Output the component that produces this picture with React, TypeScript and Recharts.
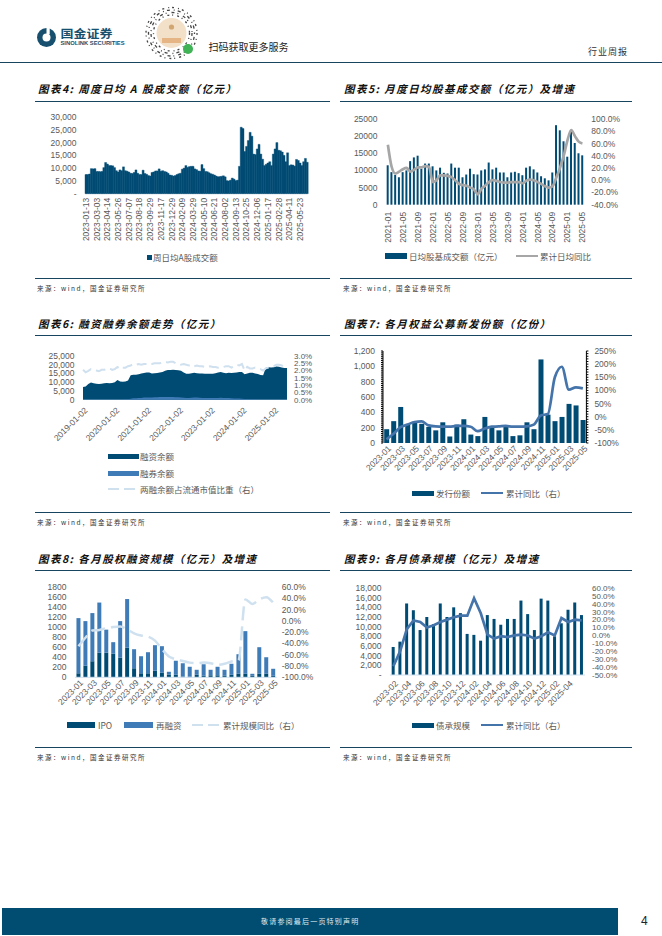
import React from 'react';
import { Area, Bar, ComposedChart, Line, XAxis, YAxis } from 'recharts';

const DARK = '#004b74';
const BLUE = '#3f7bb6';
const LINE_BLUE = '#4474aa';
const PALE = '#cfe0ef';
const GRAY = '#a6a6a6';
const TEXT = '#595959';
const LATIN = '"Liberation Sans", Arial, sans-serif';
const CJK = '"Noto Sans CJK SC", "Noto Sans", sans-serif';

// chart 4
const weekTicks = ['2023-01-13', '2023-03-03', '2023-04-14', '2023-05-26', '2023-07-07', '2023-08-18', '2023-09-29', '2023-11-17', '2023-12-29', '2024-02-09', '2024-03-29', '2024-05-10', '2024-06-21', '2024-08-02', '2024-09-13', '2024-10-25', '2024-12-06', '2025-01-17', '2025-02-28', '2025-04-11', '2025-05-23'];
const weeklyTurnover = [
  7500, 7500, 7700, 9800, 9700, 9800, 8700, 8700, 8600, 8700,
  10200, 12200, 11600, 11000, 11000, 10900, 10200, 9000, 8500, 9300,
  9000, 10500, 9000, 8800, 8500, 8000, 7900, 8300, 9300, 8000,
  7500, 7500, 9200, 7900, 7600, 7100, 6900, 8300, 8500, 8900,
  8900, 9700, 8800, 9000, 8700, 8500, 8000, 7300, 7200, 6900,
  7100, 7500, 7800, 8000, 9600, 10000, 11000, 10300, 10600, 10700,
  10700, 9700, 9400, 8900, 8800, 11400, 9800, 8700, 8600, 8200,
  7800, 7600, 7300, 6900, 6600, 6700, 6800, 7000, 6600, 5100,
  5000, 5300, 6100, 5700, 5100, 5300, 10700, 26000, 25500, 16500,
  18500, 20800, 24000, 22500, 15500, 15300, 17500, 19300, 15500, 13500,
  11000, 11500, 12000, 12500, 11000, 15500, 17500, 20000, 17000, 16800,
  16300, 15000, 12500, 16000, 11000, 11300, 11200, 10800, 13400, 13000,
  12000, 11000, 12500, 13800, 12300,
];

// chart 5
const fundTurnover = [
  11500, 9500, 8700, 8000, 9500, 10000, 12700, 13800, 14300, 10500, 12000, 12000,
  11200, 10000, 10800, 9300, 9100, 12000, 10800, 10800, 8000, 8800, 10500, 8900,
  8800, 10000, 10300, 12300, 10300, 10800, 9400, 9400, 8000, 9400, 9600, 9200,
  8600, 10800, 11200, 10300, 9400, 8300, 7700, 7100, 9400, 23200, 21700, 18500,
  14000, 21200, 18000, 15000, 14400,
];
const fundTurnoverYoy = [
  58, 22, 11, 14, 18, 20, 14, 17, 21, 21, 23, 22,
  -3, 0, 8, 8, 7, 5, 0, -6, -8, -9, -12, -15,
  -23, -14, -9, -3, 0, -1, -3, -4, -4, -3, -3, -3,
  -5, -1, 1, 0, -3, -6, -10, -12, -10, 4, 20, 40,
  65, 82, 72, 63, 60,
];

// chart 6
const marginFinancing = [
  7300, 7600, 9000, 9900, 9400, 9100, 9000, 9100, 9400, 9500, 9400, 9500,
  10000, 11300, 10400, 10200, 10400, 11000, 14000, 14300, 14300, 14500, 15000, 15300,
  15500, 15500, 15000, 15200, 15300, 15500, 15900, 16500, 17000, 17000, 17200, 17000,
  16800, 16500, 15600, 14800, 14800, 15200, 15400, 15100, 15000, 15000, 14800, 14800,
  14800, 14900, 15200, 15600, 15800, 15400, 15200, 15400, 15300, 15400, 15500, 15800,
  15900, 14500, 15000, 15400, 15400, 15000, 14700, 14200, 14000, 18300, 18600, 18400,
  18500, 19000, 18800, 18400, 18200, 18100,
];
const marginLending = [
  100, 100, 120, 150, 130, 120, 110, 120, 130, 140, 150, 150,
  160, 180, 150, 150, 200, 300, 600, 800, 800, 900, 1000, 1200,
  1300, 1300, 1300, 1400, 1400, 1500, 1500, 1500, 1500, 1500, 1500, 1400,
  1400, 1300, 1100, 1000, 1000, 1100, 1200, 1200, 1100, 1000, 900, 900,
  900, 900, 900, 1000, 1100, 900, 900, 900, 800, 700, 700, 700,
  600, 400, 400, 300, 300, 200, 150, 130, 120, 130, 130, 130,
  130, 130, 130, 120, 120, 120,
];
const marginShare = [
  2.05, 1.88, 1.98, 2.1, 2.02, 2.0, 1.95, 2.05, 2.05, 2.1, 2.15, 2.05,
  2.1, 2.25, 2.1, 2.2, 2.2, 2.3, 2.35, 2.45, 2.4, 2.45, 2.4, 2.45,
  2.45, 2.4, 2.45, 2.5, 2.5, 2.5, 2.55, 2.6, 2.55, 2.6, 2.6, 2.5,
  2.5, 2.4, 2.45, 2.4, 2.35, 2.4, 2.3, 2.35, 2.3, 2.3, 2.25, 2.25,
  2.3, 2.25, 2.25, 2.2, 2.2, 2.25, 2.3, 2.3, 2.2, 2.3, 2.4, 2.35,
  2.45, 2.0, 2.25, 2.15, 2.15, 2.2, 2.15, 2.1, 2.0, 2.15, 2.2, 2.25,
  2.3, 2.4, 2.4, 2.35, 2.25, 2.15,
];

// chart 7
const fundIssuance = [180, 285, 470, 240, 270, 250, 210, 165, 270, 85, 240, 310, 110, 90, 340, 210, 165, 220, 90, 100, 270, 180, 1090, 370, 285, 340, 510, 490, 300];
const fundIssuanceYoy = [-86, -65, -40, -30, -20, -18, -33, -37, -38, -38, -35, -35, -38, -55, -45, -38, -37, -35, -38, -38, -37, -30, 5, 10, 150, 190, 103, 112, 108];

// chart 8
const ipoAmount = [80, 230, 320, 490, 490, 470, 390, 590, 180, 80, 80, 130, 90, 50, 50, 10, 10, 50, 30, 40, 40, 30, 50, 70, 70, 30, 70, 70, 30];
const refinancing = [1100, 890, 960, 1000, 460, 230, 730, 970, 380, 340, 420, 510, 530, 60, 280, 270, 200, 100, 230, 110, 170, 120, 220, 390, 850, 40, 530, 330, 140];
const equityYoy = [-45, -30, -17, -16, -13, -11, -10, -15, -22, -26, -28, -35, -50, -63, -68, -71, -74, -75, -74, -75, -78, -76, -72, -70, 38, 30, 38, 42, 32];

// chart 9
const bondUnderwriting = [5800, 6900, 14800, 13400, 9300, 12000, 10500, 14800, 12000, 14000, 12800, 8500, 8300, 7100, 12400, 11600, 10400, 11600, 11600, 15400, 12600, 9300, 15800, 15400, 8000, 10700, 13500, 15000, 12400];
const bondYoy = [-39, -20, 8, 19, 17, 10, 13, 17, 20, 23, 25, 25, 47, 28, 1, -4, -1, -2, 0, 1, 0, -4, -1, 4, 0, 22, 17, 20, 19];

const months = (year: number, month: number, count: number) =>
  Array.from({ length: count }, (_, i) => {
    const total = year * 12 + month - 1 + i;
    return `${Math.floor(total / 12)}-${String((total % 12) + 1).padStart(2, '0')}`;
  });

const charts = {
  weekly: weeklyTurnover.map((value, i) => ({ date: i % 6 === 0 ? weekTicks[i / 6] : `w${i}`, value })),
  fund: months(2021, 1, fundTurnover.length).map((date, i) => ({ date, value: fundTurnover[i], yoy: fundTurnoverYoy[i] })),
  margin: months(2019, 1, marginFinancing.length).map((date, i) => ({ date: `${date}-02`, fin: marginFinancing[i], lend: marginLending[i], share: marginShare[i] })),
  issuance: months(2023, 1, fundIssuance.length).map((date, i) => ({ date, value: fundIssuance[i], yoy: fundIssuanceYoy[i] })),
  equity: months(2023, 1, ipoAmount.length).map((date, i) => ({ date, ipo: ipoAmount[i], re: refinancing[i], yoy: equityYoy[i] })),
  bond: months(2023, 2, bondUnderwriting.length).map((date, i) => ({ date, value: bondUnderwriting[i], yoy: bondYoy[i] })),
};

const range = (from: number, to: number, step: number) => {
  const out: number[] = [];
  for (let v = from; v <= to + 1e-9; v += step) out.push(Math.round(v * 100) / 100);
  return out;
};

const comma = (v: number) => (v === 0 ? '-' : v.toLocaleString('en-US'));
const axisFont = { fontSize: 8.5, fill: TEXT, fontFamily: LATIN };

const Abs = ({ x, y, style, children }: any) => (
  <div style={{ position: 'absolute', left: x, top: y, whiteSpace: 'nowrap', lineHeight: 1, ...style }}>{children}</div>
);

const RotTick = ({ x, y, payload, angle, gap, skip }: any) => {
  if (payload.value === skip || payload.value.startsWith('w')) return null;
  return (
    <g transform={`translate(${x + (angle === -90 ? 0 : 3)},${y + gap}) rotate(${angle})`}>
      <text textAnchor="end" dominantBaseline="central" {...axisFont}>{payload.value}</text>
    </g>
  );
};

// plot is the rectangle of the drawing area on the page
const PAD = 44;
const Frame = ({ plot, data, gap, noRight, children }: any) => (
  <div style={{ position: 'absolute', left: plot.x - PAD, top: plot.y - 6 }}>
    <ComposedChart
      width={plot.w + PAD * 2}
      height={plot.h + 76}
      data={data}
      barCategoryGap={gap}
      margin={{ top: 6, left: 0, right: noRight ? PAD : 0, bottom: 0 }}
    >
      {children}
    </ComposedChart>
  </div>
);

const xAxis = (angle: number, gap: number, interval: number, extra: any = {}) => {
  const { skip, ...rest } = extra;
  return (
    <XAxis
      dataKey="date"
      height={70}
      interval={interval}
      tickSize={0}
      tickMargin={0}
      tickLine={false}
      axisLine={false}
      tick={(p: any) => <RotTick {...p} angle={angle} gap={gap} skip={skip} />}
      {...rest}
    />
  );
};

const leftAxis = (domain: number[], ticks: number[], fmt: any, extra: any = {}) => (
  <YAxis yAxisId="l" width={PAD} domain={domain} ticks={ticks} interval={0} tick={axisFont} tickFormatter={fmt} tickSize={0} tickMargin={8.5} tickLine={false} axisLine={false} {...extra} />
);

const rightAxis = (domain: number[], ticks: number[], fmt: any, extra: any = {}) => (
  <YAxis yAxisId="r" orientation="right" width={PAD} domain={domain} ticks={ticks} interval={0} tick={{ ...axisFont, textAnchor: 'start' }} tickFormatter={fmt} tickSize={0} tickMargin={7} tickLine={false} axisLine={false} {...extra} />
);

const pct1 = (v: number) => `${v.toFixed(1)}%`;
const smallRight = { ...axisFont, fontSize: 8, textAnchor: 'start' };

const Title = ({ x, y, children }: any) => (
  <Abs x={x} y={y} style={{ fontFamily: CJK, fontWeight: 700, fontStyle: 'italic', fontSize: 10.5, letterSpacing: 1.45, color: '#111' }}>{children}</Abs>
);
const Rule = ({ x, y, w }: any) => <div style={{ position: 'absolute', left: x, top: y, width: w, height: 1, background: '#17455f' }} />;
const Source = ({ x, y }: any) => (
  <Abs x={x} y={y} style={{ fontFamily: CJK, fontSize: 6.5, letterSpacing: 1.5, color: '#333' }}>来源：wind，国金证券研究所</Abs>
);
const LegendText = ({ x, y, children }: any) => (
  <Abs x={x} y={y - 4.5} style={{ fontFamily: CJK, fontSize: 8.5, color: TEXT }}>{children}</Abs>
);
const Swatch = ({ x, y, w, h = 5, color }: any) => (
  <div style={{ position: 'absolute', left: x, top: y - h / 2, width: w, height: h, background: color }} />
);
const DashSwatch = ({ x, y, w }: any) => (
  <svg style={{ position: 'absolute', left: x, top: y - 2 }} width={w} height={4}>
    <line x1={0} y1={2} x2={w} y2={2} stroke={PALE} strokeWidth={2} strokeDasharray="11 5" />
  </svg>
);

const Logo = () => (
  <svg style={{ position: 'absolute', left: 36, top: 27 }} width={24} height={24}>
    <circle cx={10.5} cy={10.5} r={9.5} fill="#17506f" />
    <circle cx={10.5} cy={10.5} r={4} fill="#fff" />
    <rect x={10.5} y={0} width={3.2} height={7} fill="#fff" />
  </svg>
);

const QrCode = () => (
  <svg style={{ position: 'absolute', left: 144, top: 6 }} width={54} height={54}>
    {[25.5, 23, 20.5, 18].map((r, i) => (
      <circle key={r} cx={27.5} cy={27} r={r} fill="none" stroke="#444" strokeWidth={1.3} strokeDasharray={['2 4 1 3', '1 3 3 4', '3 3 1 5', '2 3 1 4'][i]} />
    ))}
    <circle cx={27.5} cy={27} r={15} fill="#f3e0c8" />
    <circle cx={27.5} cy={21} r={2.6} fill="#d1a671" />
    <rect x={18} y={32} width={19} height={5} fill="#e6b585" />
    <circle cx={44} cy={43} r={5} fill="#3fb356" />
  </svg>
);

export default function App() {
  return (
    <div style={{ position: 'absolute', left: 0, top: 0, width: 662, height: 936, background: '#fff', overflow: 'hidden' }}>
      <Logo />
      <Abs x={60.5} y={28} style={{ fontFamily: CJK, fontWeight: 700, fontSize: 13, color: '#17506f', transform: 'scaleY(0.85)', transformOrigin: 'top left' }}>国金证券</Abs>
      <Abs x={60.5} y={41} style={{ fontFamily: LATIN, fontWeight: 700, fontSize: 5.8, color: '#17506f' }}>SINOLINK SECURITIES</Abs>
      <QrCode />
      <Abs x={208.5} y={42} style={{ fontFamily: CJK, fontSize: 10, color: '#222' }}>扫码获取更多服务</Abs>
      <Abs x={588} y={47} style={{ fontFamily: CJK, fontSize: 9, letterSpacing: 1, color: '#333' }}>行业周报</Abs>
      <Rule x={0} y={62} w={662} />

      <Title x={38} y={84}>图表4: 周度日均 A 股成交额（亿元）</Title>
      <Rule x={35} y={101} w={295} />
      <Title x={344} y={84}>图表5: 月度日均股基成交额（亿元）及增速</Title>
      <Rule x={340} y={101} w={292} />

      <Frame plot={{ x: 85, y: 117, w: 223, h: 76.7 }} data={charts.weekly} gap={0} noRight>
        {xAxis(-90, 4, 5)}
        {leftAxis([0, 30000], range(0, 30000, 5000), comma)}
        <Bar yAxisId="l" dataKey="value" fill={DARK} stroke={DARK} strokeWidth={0.4} isAnimationActive={false} />
      </Frame>
      <Swatch x={147} y={257} w={5} h={5} color={DARK} />
      <LegendText x={153} y={257}>周日均A股成交额</LegendText>
      <Rule x={35} y={278} w={295} />
      <Source x={37} y={285} />

      {/* the gap percentages apply to each side of a bar */}
      <Frame plot={{ x: 386, y: 119, w: 198.3, h: 85.7 }} data={charts.fund} gap="18%">
        {xAxis(-90, 7, 3)}
        {leftAxis([0, 25000], range(0, 25000, 5000), (v: number) => String(v))}
        {rightAxis([-40, 100], range(-40, 100, 20), pct1)}
        <Bar yAxisId="l" dataKey="value" fill={DARK} isAnimationActive={false} />
        <Line yAxisId="r" dataKey="yoy" stroke={GRAY} strokeWidth={2.7} dot={false} type="monotone" isAnimationActive={false} />
      </Frame>
      <Swatch x={385} y={256} w={22} h={6} color={DARK} />
      <LegendText x={409} y={256}>日均股基成交额（亿元）</LegendText>
      <Swatch x={516} y={256} w={22} h={2.7} color={GRAY} />
      <LegendText x={540} y={256}>累计日均同比</LegendText>
      <Rule x={340} y={278} w={292} />
      <Source x={343} y={285} />

      <Title x={38} y={319}>图表6: 融资融券余额走势（亿元）</Title>
      <Rule x={35} y={335} w={295} />
      <Title x={344} y={319}>图表7: 各月权益公募新发份额（亿份）</Title>
      <Rule x={340} y={335} w={292} />

      <Frame plot={{ x: 82.7, y: 356, w: 204, h: 43.7 }} data={charts.margin}>
        {xAxis(-45, 9, 11, { scale: 'point', padding: { left: 0, right: 0 } })}
        {leftAxis([0, 25000], range(0, 25000, 5000), (v: number) => v.toLocaleString('en-US'))}
        {rightAxis([0, 3], range(0, 3, 0.5), pct1, { tick: smallRight })}
        <Area yAxisId="l" dataKey="fin" fill={DARK} fillOpacity={1} stroke="none" type="linear" isAnimationActive={false} />
        <Area yAxisId="l" dataKey="lend" fill={BLUE} fillOpacity={1} stroke="none" type="linear" isAnimationActive={false} />
        <Line yAxisId="r" dataKey="share" stroke={PALE} strokeWidth={2} strokeDasharray="10 5" dot={false} type="linear" isAnimationActive={false} />
      </Frame>
      <Swatch x={108} y={456} w={31} h={5} color={DARK} />
      <LegendText x={140} y={456}>融资余额</LegendText>
      <Swatch x={108} y={473} w={31} h={5} color={BLUE} />
      <LegendText x={140} y={473}>融券余额</LegendText>
      <DashSwatch x={108} y={489} w={27} />
      <LegendText x={140} y={489}>两融余额占流通市值比重（右）</LegendText>
      <Rule x={35} y={512} w={295} />
      <Source x={37} y={519} />

      <Frame plot={{ x: 383.3, y: 351, w: 203.4, h: 92 }} data={charts.issuance} gap="17%">
        {xAxis(-45, 4, 1)}
        {leftAxis([0, 1200], range(0, 1200, 25), (v: number) => (v % 200 === 0 ? v.toLocaleString('en-US') : ''), {
          axisLine: { stroke: '#000' }, tickLine: { stroke: '#000' }, tickSize: 2, tickMargin: 6,
        })}
        {rightAxis([-100, 250], range(-100, 250, 10), (v: number) => (v % 50 === 0 ? `${v}%` : ''), {
          axisLine: { stroke: '#000' }, tickLine: { stroke: '#000' }, tickSize: 2, tickMargin: 6,
        })}
        <Bar yAxisId="l" dataKey="value" fill={DARK} isAnimationActive={false} />
        <Line yAxisId="r" dataKey="yoy" stroke={LINE_BLUE} strokeWidth={2.7} dot={false} type="monotone" isAnimationActive={false} />
      </Frame>
      <Swatch x={412} y={493} w={22} h={5} color={DARK} />
      <LegendText x={436} y={493}>发行份额</LegendText>
      <Swatch x={481} y={493} w={22} h={2.7} color={LINE_BLUE} />
      <LegendText x={506} y={493}>累计同比（右）</LegendText>
      <Rule x={340} y={512} w={292} />
      <Source x={343} y={519} />

      <Title x={38} y={554}>图表8: 各月股权融资规模（亿元）及增速</Title>
      <Rule x={35} y={570} w={295} />
      <Title x={344} y={554}>图表9: 各月债承规模（亿元）及增速</Title>
      <Rule x={340} y={570} w={292} />

      <Frame plot={{ x: 75, y: 586.7, w: 201.7, h: 90.3 }} data={charts.equity} gap="21%">
        {xAxis(-45, 4, 1, { axisLine: { stroke: PALE } })}
        {leftAxis([0, 1800], range(0, 1800, 200), (v: number) => String(v))}
        {rightAxis([-100, 60], range(-100, 60, 20), pct1, { tickMargin: 5 })}
        <Bar yAxisId="l" dataKey="ipo" stackId="a" fill={DARK} isAnimationActive={false} />
        <Bar yAxisId="l" dataKey="re" stackId="a" fill={BLUE} isAnimationActive={false} />
        <Line yAxisId="r" dataKey="yoy" stroke={PALE} strokeWidth={2.5} strokeDasharray="14 6" dot={false} type="monotone" isAnimationActive={false} />
      </Frame>
      <Swatch x={67} y={725} w={28} h={6} color={DARK} />
      <LegendText x={98} y={725}>IPO</LegendText>
      <Swatch x={124} y={725} w={29} h={6} color={BLUE} />
      <LegendText x={156} y={725}>再融资</LegendText>
      <DashSwatch x={192} y={725} w={28} />
      <LegendText x={223} y={725}>累计规模同比（右）</LegendText>
      <Rule x={35} y={747} w={295} />
      <Source x={37} y={754} />

      <Frame plot={{ x: 390, y: 587.7, w: 195, h: 87 }} data={charts.bond} gap="25%">
        {xAxis(-45, 7, 1, { skip: '2025-06', axisLine: { stroke: PALE } })}
        {leftAxis([0, 18000], range(0, 18000, 2000), comma)}
        {rightAxis([-50, 60], range(-50, 60, 10), pct1, { tick: smallRight })}
        <Bar yAxisId="l" dataKey="value" fill={DARK} isAnimationActive={false} />
        <Line yAxisId="r" dataKey="yoy" stroke={LINE_BLUE} strokeWidth={2.7} dot={false} type="linear" isAnimationActive={false} />
      </Frame>
      <Swatch x={412} y={725} w={22} h={5} color={DARK} />
      <LegendText x={436} y={725}>债承规模</LegendText>
      <Swatch x={481} y={725} w={22} h={2.7} color={LINE_BLUE} />
      <LegendText x={506} y={725}>累计同比（右）</LegendText>
      <Rule x={340} y={747} w={292} />
      <Source x={343} y={754} />

      <div style={{ position: 'absolute', left: 2, top: 908, width: 616, height: 27, background: '#004d71' }} />
      <Abs x={261} y={918} style={{ fontFamily: CJK, fontSize: 7, letterSpacing: 1.2, color: '#dfe8ee' }}>敬请参阅最后一页特别声明</Abs>
      <Abs x={641} y={915} style={{ fontFamily: LATIN, fontSize: 12, color: '#222' }}>4</Abs>
    </div>
  );
}
